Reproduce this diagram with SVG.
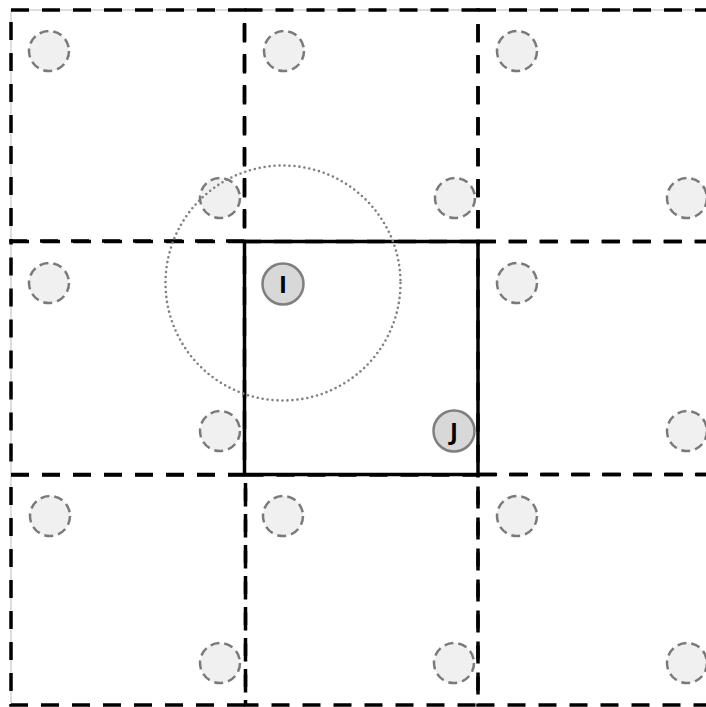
<svg xmlns="http://www.w3.org/2000/svg" width="706" height="707" viewBox="0 0 706 707">
<style>
.cell{fill:none;stroke:#000;stroke-width:3.5;stroke-dasharray:18 13}
.center{fill:none;stroke:#000;stroke-width:3.5}
.ghost{fill:#f0f0f0;stroke:#7a7a7a;stroke-width:2.5;stroke-dasharray:9 5}
.node{fill:#d8d8d8;stroke:#7f7f7f;stroke-width:2.5}
.lbl{font-family:"Open Sans","DejaVu Sans","Liberation Sans",sans-serif;font-weight:bold;font-size:24px;fill:#000;text-anchor:middle}
.range{fill:none;stroke:#7f7f7f;stroke-width:2.6;stroke-dasharray:0 5;stroke-linecap:round}
.frame{fill:none;stroke:#bdbdbd;stroke-width:1}
</style>
<rect width="706" height="707" fill="#fff"/>
<path class="frame" d="M11,800 V10 H800"/>
<g id="cells">
<rect id="cell-tl" class="cell" x="11" y="10" width="233.5" height="231"/>
<rect id="cell-tm" class="cell" x="244.5" y="10" width="233.5" height="231.5"/>
<rect id="cell-tr" class="cell" x="478" y="10" width="234" height="231.5"/>
<rect id="cell-ml" class="cell" x="11" y="241.5" width="233.5" height="233"/>
<rect id="cell-mr" class="cell" x="478" y="241.5" width="234" height="233"/>
<rect id="cell-bl" class="cell" x="11" y="475" width="234.5" height="230"/>
<rect id="cell-bm" class="cell" x="245.5" y="475" width="232.5" height="230"/>
<rect id="cell-br" class="cell" x="478" y="474.5" width="234" height="230.5"/>
<rect id="cell-center" class="center" x="244.5" y="241.5" width="233.5" height="233"/>
</g>
<g id="ghosts">
<circle id="g1" class="ghost" cx="49" cy="51" r="20"/>
<circle id="g2" class="ghost" cx="220" cy="198" r="20"/>
<circle id="g3" class="ghost" cx="284" cy="51" r="20"/>
<circle id="g4" class="ghost" cx="455" cy="198" r="20"/>
<circle id="g5" class="ghost" cx="517" cy="51" r="20"/>
<circle id="g6" class="ghost" cx="687" cy="198" r="20"/>
<circle id="g7" class="ghost" cx="49" cy="283" r="20"/>
<circle id="g8" class="ghost" cx="220" cy="431" r="20"/>
<circle id="g9" class="ghost" cx="517" cy="283" r="20"/>
<circle id="g10" class="ghost" cx="687" cy="431" r="20"/>
<circle id="g11" class="ghost" cx="50" cy="516" r="20"/>
<circle id="g12" class="ghost" cx="220" cy="663" r="20"/>
<circle id="g13" class="ghost" cx="283" cy="516" r="20"/>
<circle id="g14" class="ghost" cx="454" cy="663" r="20"/>
<circle id="g15" class="ghost" cx="517" cy="516" r="20"/>
<circle id="g16" class="ghost" cx="687" cy="663" r="20"/>
</g>
<g id="connectors">
<circle id="range" class="range" cx="283" cy="283" r="117.5"/>
</g>
<g id="node-I">
<circle class="node" cx="283" cy="284" r="20.5"/>
<text class="lbl" x="283" y="292.5">I</text>
</g>
<g id="node-J">
<circle class="node" cx="454" cy="431" r="20.5"/>
<text class="lbl" x="454" y="439.5">J</text>
</g>
</svg>
